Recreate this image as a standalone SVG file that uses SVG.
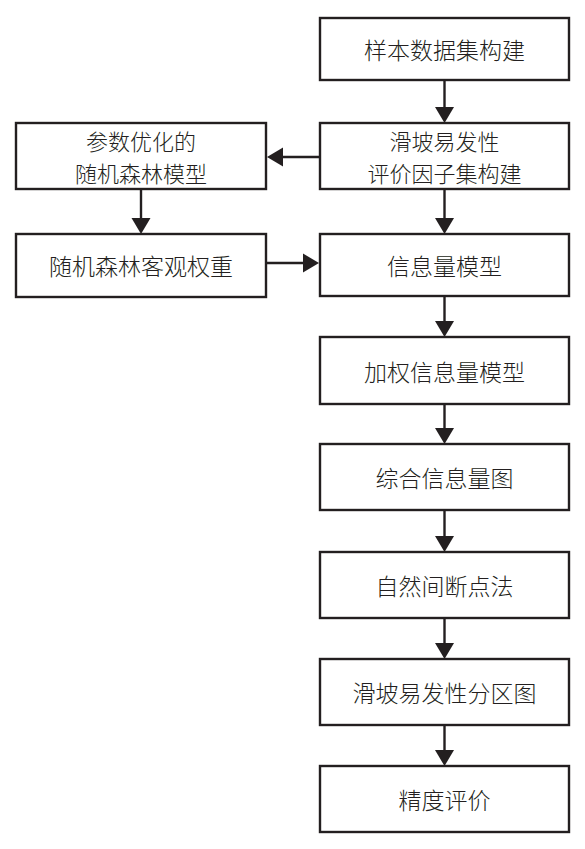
<svg xmlns="http://www.w3.org/2000/svg" width="585" height="849" viewBox="0 0 585 849">
<style>
.box{fill:#fff;stroke:#231f20;stroke-width:2.4}
.t{font-family:"Noto Sans CJK SC","Noto Sans",sans-serif;font-size:23px;fill:#231f20;text-anchor:middle;dominant-baseline:central;font-weight:300}
.t2{font-size:22px}
.c{stroke:#231f20;stroke-width:2.4;fill:none}
.h{fill:#231f20;stroke:none}
</style>
<rect width="585" height="849" fill="#fff"/>
<g id="connectors">
<line class="c" x1="444.5" y1="80" x2="444.5" y2="108"/><polygon class="h" points="435,107 454,107 444.5,123"/>
<line class="c" x1="444.5" y1="189" x2="444.5" y2="219"/><polygon class="h" points="435,218 454,218 444.5,234"/>
<line class="c" x1="444.5" y1="296" x2="444.5" y2="322"/><polygon class="h" points="435,321 454,321 444.5,337"/>
<line class="c" x1="444.5" y1="404" x2="444.5" y2="429"/><polygon class="h" points="435,428 454,428 444.5,444"/>
<line class="c" x1="444.5" y1="510" x2="444.5" y2="537"/><polygon class="h" points="435,536 454,536 444.5,552"/>
<line class="c" x1="444.5" y1="618" x2="444.5" y2="644"/><polygon class="h" points="435,643 454,643 444.5,659"/>
<line class="c" x1="444.5" y1="725" x2="444.5" y2="751"/><polygon class="h" points="435,750 454,750 444.5,766"/>
<line class="c" x1="141" y1="189" x2="141" y2="219"/><polygon class="h" points="131.5,218 150.5,218 141,234"/>
<line class="c" x1="320" y1="157" x2="282" y2="157"/><polygon class="h" points="283,147.5 283,166.5 267,157"/>
<line class="c" x1="266" y1="263" x2="304" y2="263"/><polygon class="h" points="303,253.5 303,272.5 319,263"/>
</g>
<g id="n1"><rect class="box" x="320" y="18" width="249" height="62"/><text class="t" x="444.5" y="49">样本数据集构建</text></g>
<g id="n2"><rect class="box" x="320" y="123" width="249" height="66"/><text class="t t2" x="444.5" y="140">滑坡易发性</text><text class="t t2" x="444.5" y="172">评价因子集构建</text></g>
<g id="n3"><rect class="box" x="320" y="234" width="249" height="62"/><text class="t" x="444.5" y="265">信息量模型</text></g>
<g id="n4"><rect class="box" x="320" y="337" width="249" height="67"/><text class="t" x="444.5" y="370.5">加权信息量模型</text></g>
<g id="n5"><rect class="box" x="320" y="444" width="249" height="66"/><text class="t" x="444.5" y="477">综合信息量图</text></g>
<g id="n6"><rect class="box" x="320" y="552" width="249" height="66"/><text class="t" x="444.5" y="585">自然间断点法</text></g>
<g id="n7"><rect class="box" x="320" y="659" width="249" height="66"/><text class="t" x="444.5" y="692">滑坡易发性分区图</text></g>
<g id="n8"><rect class="box" x="320" y="766" width="249" height="66"/><text class="t" x="444.5" y="799">精度评价</text></g>
<g id="l1"><rect class="box" x="16" y="123" width="250" height="66"/><text class="t t2" x="141" y="140">参数优化的</text><text class="t t2" x="141" y="172">随机森林模型</text></g>
<g id="l2"><rect class="box" x="16" y="234" width="250" height="63"/><text class="t" x="141" y="265">随机森林客观权重</text></g>
</svg>
